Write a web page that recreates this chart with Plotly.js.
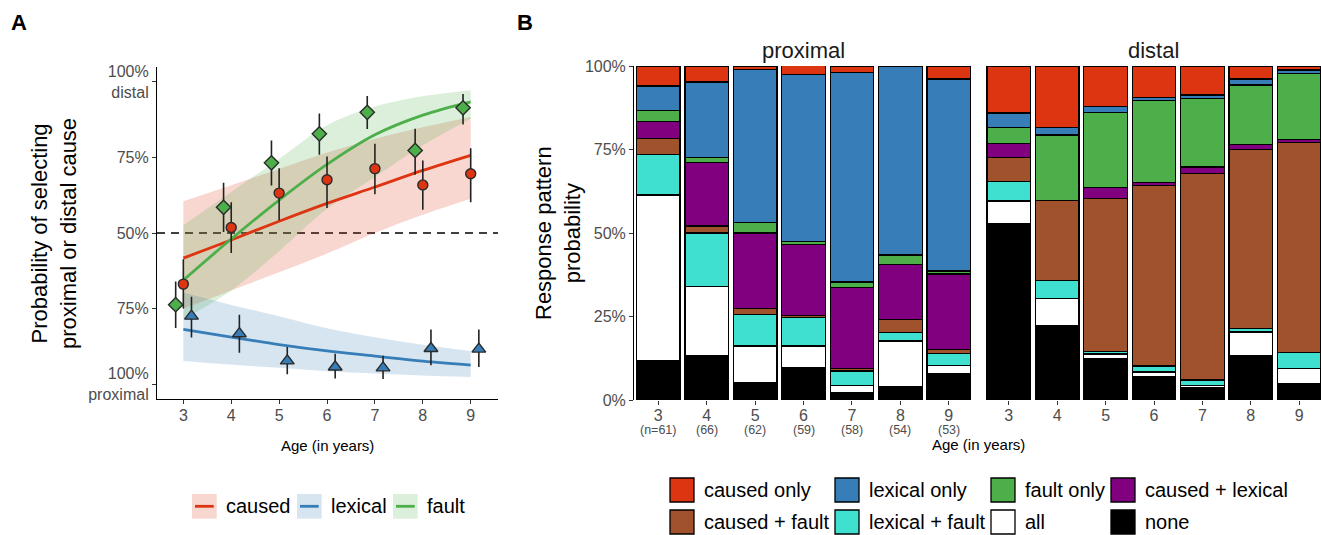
<!DOCTYPE html>
<html><head><meta charset="utf-8">
<script src="https://cdn.plot.ly/plotly-3.0.1.min.js"></script>
<style>html,body{margin:0;padding:0;background:#fff;} #chart{width:1321px;height:535px;}</style>
</head><body><div id="chart"></div>
<script>
// ---------------- DATA ----------------
const ages = [3, 4, 5, 6, 7, 8, 9];
const nCounts = [61, 66, 62, 59, 58, 54, 53];

// Panel A: observed proportions (distal choice) with intervals
const causedMean = [0.331, 0.518, 0.632, 0.676, 0.713, 0.659, 0.696];
const causedLo   = [0.250, 0.434, 0.542, 0.583, 0.628, 0.577, 0.602];
const causedHi   = [0.413, 0.602, 0.714, 0.753, 0.795, 0.740, 0.780];
const lexicalMean = [0.225, 0.167, 0.077, 0.057, 0.054, 0.118, 0.116];
const lexicalLo   = [0.154, 0.104, 0.033, 0.019, 0.017, 0.063, 0.057];
const lexicalHi   = [0.289, 0.230, 0.123, 0.101, 0.094, 0.181, 0.181];
const faultMean = [0.263, 0.585, 0.732, 0.828, 0.899, 0.773, 0.914];
const faultLo   = [0.186, 0.503, 0.657, 0.759, 0.844, 0.693, 0.859];
const faultHi   = [0.340, 0.666, 0.806, 0.895, 0.953, 0.845, 0.960];

// Panel A: model fits and ribbons (read at each age)
const causedFit   = [0.417, 0.477, 0.539, 0.598, 0.652, 0.707, 0.757];
const causedFitLo = [0.250, 0.310, 0.370, 0.432, 0.500, 0.560, 0.613];
const causedFitHi = [0.605, 0.658, 0.712, 0.766, 0.812, 0.850, 0.884];
const lexicalFit   = [0.181, 0.156, 0.131, 0.110, 0.093, 0.076, 0.063];
const lexicalFitLo = [0.077, 0.065, 0.054, 0.043, 0.035, 0.029, 0.024];
const lexicalFitHi = [0.303, 0.262, 0.225, 0.185, 0.155, 0.130, 0.109];
const faultFit   = [0.344, 0.480, 0.609, 0.727, 0.825, 0.890, 0.934];
const faultFitLo = [0.214, 0.310, 0.440, 0.580, 0.685, 0.790, 0.878];
const faultFitHi = [0.526, 0.636, 0.745, 0.856, 0.918, 0.952, 0.972];

const aTickVals = [0, 0.25, 0.5, 0.75, 1];
const aTickText = ['100%<br>proximal', '75%', '50%', '75%', '100%<br>distal'];
const chanceLevel = 0.5;

// Panel B: response pattern probabilities (%) per age
const patterns = ['caused only', 'lexical only', 'fault only', 'caused + lexical',
                  'caused + fault', 'lexical + fault', 'all', 'none'];
const proximal = {
  'caused only':      [6.0, 4.8, 1.0, 2.7, 2.0, 0.0, 3.9],
  'lexical only':     [7.4, 22.6, 45.9, 50.0, 62.7, 56.6, 57.5],
  'fault only':       [3.3, 1.5, 3.1, 0.9, 1.7, 2.8, 0.9],
  'caused + lexical': [5.0, 19.0, 22.6, 21.1, 24.1, 16.6, 22.6],
  'caused + fault':   [4.7, 2.1, 1.7, 0.6, 0.8, 3.8, 1.1],
  'lexical + fault':  [12.2, 16.0, 9.5, 8.6, 4.4, 2.5, 3.7],
  'all':              [49.6, 20.8, 11.0, 6.6, 2.1, 13.7, 2.5],
  'none':             [11.8, 13.2, 5.2, 9.6, 2.2, 4.0, 7.8]
};
const distal = {
  'caused only':      [14.1, 18.4, 12.2, 9.5, 8.7, 3.9, 1.2],
  'lexical only':     [4.3, 2.3, 1.8, 0.9, 1.0, 1.8, 1.0],
  'fault only':       [4.8, 19.6, 22.4, 24.5, 20.5, 17.8, 19.7],
  'caused + lexical': [4.1, 0.0, 3.3, 0.9, 1.9, 1.6, 0.9],
  'caused + fault':   [7.3, 24.0, 45.8, 54.0, 61.9, 53.5, 63.0],
  'lexical + fault':  [5.8, 5.4, 0.7, 1.8, 1.7, 1.0, 4.8],
  'all':              [6.9, 8.1, 1.3, 1.4, 0.6, 7.1, 4.4],
  'none':             [52.7, 22.2, 12.5, 7.0, 3.7, 13.3, 5.0]
};

// ---------------- STYLE ----------------
const W = 1321, H = 535;
const px = v => v / W;
const py = v => 1 - v / H;
const FONT = 'Liberation Sans, Arial, Helvetica, sans-serif';
const TICKCOL = '#4d4d4d';

const groupColors = { caused: '#dd3512', lexical: '#377eb8', fault: '#4daf4a' };
const groupFill = { caused: 'rgba(221,53,18,0.2)', lexical: 'rgba(55,126,184,0.2)', fault: 'rgba(77,175,74,0.2)' };
const patternColors = {
  'caused only': '#dd3512', 'lexical only': '#377eb8', 'fault only': '#4daf4a',
  'caused + lexical': '#800080', 'caused + fault': '#a0522d', 'lexical + fault': '#40e0d0',
  'all': '#ffffff', 'none': '#000000'
};

const traces = [];

// ---- Panel A ribbons ----
const groups = [
  { key: 'caused', fit: causedFit, lo: causedFitLo, hi: causedFitHi, mean: causedMean, mlo: causedLo, mhi: causedHi, symbol: 'circle', size: 10, dodge: 0 },
  { key: 'lexical', fit: lexicalFit, lo: lexicalFitLo, hi: lexicalFitHi, mean: lexicalMean, mlo: lexicalLo, mhi: lexicalHi, symbol: 'triangle-up', size: 12, dodge: 0.17 },
  { key: 'fault', fit: faultFit, lo: faultFitLo, hi: faultFitHi, mean: faultMean, mlo: faultLo, mhi: faultHi, symbol: 'diamond', size: 11, dodge: -0.16 }
];
groups.forEach(g => {
  traces.push({ x: ages, y: g.lo, mode: 'lines', line: { width: 0, shape: 'spline' }, xaxis: 'x', yaxis: 'y', hoverinfo: 'skip', showlegend: false });
  traces.push({ x: ages, y: g.hi, mode: 'lines', line: { width: 0, shape: 'spline' }, fill: 'tonexty', fillcolor: groupFill[g.key], xaxis: 'x', yaxis: 'y', hoverinfo: 'skip', showlegend: false });
});
groups.forEach(g => {
  traces.push({ x: ages, y: g.fit, mode: 'lines', line: { width: 2.8, color: groupColors[g.key], shape: 'spline' }, xaxis: 'x', yaxis: 'y', showlegend: false });
});
groups.forEach(g => {
  traces.push({
    x: ages.map(a => a + g.dodge), y: g.mean, mode: 'markers', xaxis: 'x', yaxis: 'y', showlegend: false,
    marker: { symbol: g.symbol, size: g.size, color: groupColors[g.key], line: { color: '#2a2a2a', width: 1.4 } },
    error_y: { type: 'data', symmetric: false, array: g.mhi.map((v, i) => v - g.mean[i]), arrayminus: g.mean.map((v, i) => v - g.mlo[i]), color: '#222', thickness: 1.6, width: 0 }
  });
});

// ---- Panel B bars (stack bottom to top = reverse legend order) ----
[[proximal, 'x2', 'y2'], [distal, 'x3', 'y3']].forEach(([data, xa, ya]) => {
  patterns.slice().reverse().forEach(p => {
    traces.push({
      type: 'bar', x: ages, y: data[p].map(v => v / 100), xaxis: xa, yaxis: ya, name: p, showlegend: false,
      marker: { color: patternColors[p], line: { color: '#000', width: 1.3 } }, hoverinfo: 'skip'
    });
  });
});

// ---------------- LAYOUT ----------------
const tickFont = { family: FONT, size: 16, color: TICKCOL };
const bDomainY = [py(400), py(66)];

function note(text, x, y, size, opts) {
  return Object.assign({ text: text, x: px(x), y: py(y), xref: 'paper', yref: 'paper', xanchor: 'center', yanchor: 'middle', showarrow: false, font: { family: FONT, size: size, color: '#000' } }, opts || {});
}

const annotations = [
  note('<b>A</b>', 19, 22, 22),
  note('<b>B</b>', 525, 22, 22),
  note('Probability of selecting<br>proximal or distal cause', 54, 234, 22, { textangle: -90 }),
  note('Age (in years)', 327.5, 445, 15),
  note('Response pattern<br>probability', 558, 233, 22, { textangle: -90 }),
  note('Age (in years)', 978, 444, 15),
  note('proximal', 803.5, 50.5, 22, { font: { family: FONT, size: 22, color: '#1a1a1a' } }),
  note('distal', 1153.3, 50.5, 22, { font: { family: FONT, size: 22, color: '#1a1a1a' } })
];
ages.forEach((a, i) => {
  annotations.push({ text: i === 0 ? '(n=' + nCounts[i] + ')' : '(' + nCounts[i] + ')', x: a, y: py(430), xref: 'x2', yref: 'paper', xanchor: 'center', yanchor: 'middle', showarrow: false, font: { family: FONT, size: 12.5, color: TICKCOL } });
});

const shapes = [
  { type: 'line', xref: 'x domain', yref: 'y', x0: 0, x1: 1, y0: chanceLevel, y1: chanceLevel, line: { color: '#000', width: 1.3, dash: '8px,6px' }, layer: 'below' }
];

// Legend A
const legAKeyX = [192, 297, 393];
const legAY = 506.3, legAKey = 24.7;
groups.forEach((g, i) => {
  const x0 = legAKeyX[i];
  shapes.push({ type: 'rect', xref: 'paper', yref: 'paper', x0: px(x0), x1: px(x0 + legAKey), y0: py(legAY + legAKey / 2), y1: py(legAY - legAKey / 2), fillcolor: groupFill[g.key], line: { width: 0 } });
  shapes.push({ type: 'line', xref: 'paper', yref: 'paper', x0: px(x0 + 3), x1: px(x0 + legAKey - 3), y0: py(legAY), y1: py(legAY), line: { color: groupColors[g.key], width: 2.8 } });
  annotations.push(note(g.key, x0 + legAKey + 7, legAY, 20, { xanchor: 'left' }));
});

// Legend B
const legBColX = [670, 835, 991, 1111];
const legBRowY = [490, 522];
const legBKey = 24;
patterns.forEach((p, i) => {
  const x0 = legBColX[i % 4], yc = legBRowY[Math.floor(i / 4)];
  shapes.push({ type: 'rect', xref: 'paper', yref: 'paper', x0: px(x0), x1: px(x0 + legBKey), y0: py(yc + legBKey / 2), y1: py(yc - legBKey / 2), fillcolor: patternColors[p], line: { color: '#000', width: 1.3 } });
  annotations.push(note(p, x0 + legBKey + 8, yc, 20, { xanchor: 'left' }));
});

const axCommon = { showgrid: false, zeroline: false, ticks: 'outside', ticklen: 4, tickcolor: '#333', tickfont: tickFont, ticklabelstandoff: -3 };

const layout = {
  width: W, height: H,
  margin: { l: 0, r: 0, t: 0, b: 0, pad: 0 },
  paper_bgcolor: '#fff', plot_bgcolor: 'rgba(0,0,0,0)',
  font: { family: FONT },
  showlegend: false,
  barmode: 'stack', bargap: 0.1,
  xaxis: Object.assign({}, axCommon, { domain: [px(157), px(498)], range: [2.45, 9.57], anchor: 'y', showline: true, linecolor: '#000', linewidth: 1.1, tickvals: ages }),
  yaxis: Object.assign({}, axCommon, { domain: [py(399.3), py(66.7)], range: [-0.05, 1.05], anchor: 'x', showline: true, linecolor: '#000', linewidth: 1.1, tickvals: aTickVals, ticktext: aTickText, ticklabelstandoff: 0 }),
  xaxis2: Object.assign({}, axCommon, { domain: [px(634.1), px(973)], range: [2.5, 9.5], anchor: 'y2', showline: false, tickvals: ages }),
  yaxis2: Object.assign({}, axCommon, { domain: bDomainY, range: [0, 1], anchor: 'x2', showline: true, linecolor: '#000', linewidth: 1.1, tickvals: [0, 0.25, 0.5, 0.75, 1], tickformat: '.0%', ticklabelstandoff: 0 }),
  xaxis3: Object.assign({}, axCommon, { domain: [px(984.6), 1], range: [2.5, 2.5 + (W - 984.6) / 48.4], anchor: 'y3', showline: false, tickvals: ages }),
  yaxis3: { domain: bDomainY, range: [0, 1], anchor: 'x3', showgrid: false, zeroline: false, showline: false, ticks: '', showticklabels: false },
  shapes: shapes,
  annotations: annotations
};

Plotly.newPlot('chart', traces, layout, { staticPlot: true, displayModeBar: false });
</script></body></html>
